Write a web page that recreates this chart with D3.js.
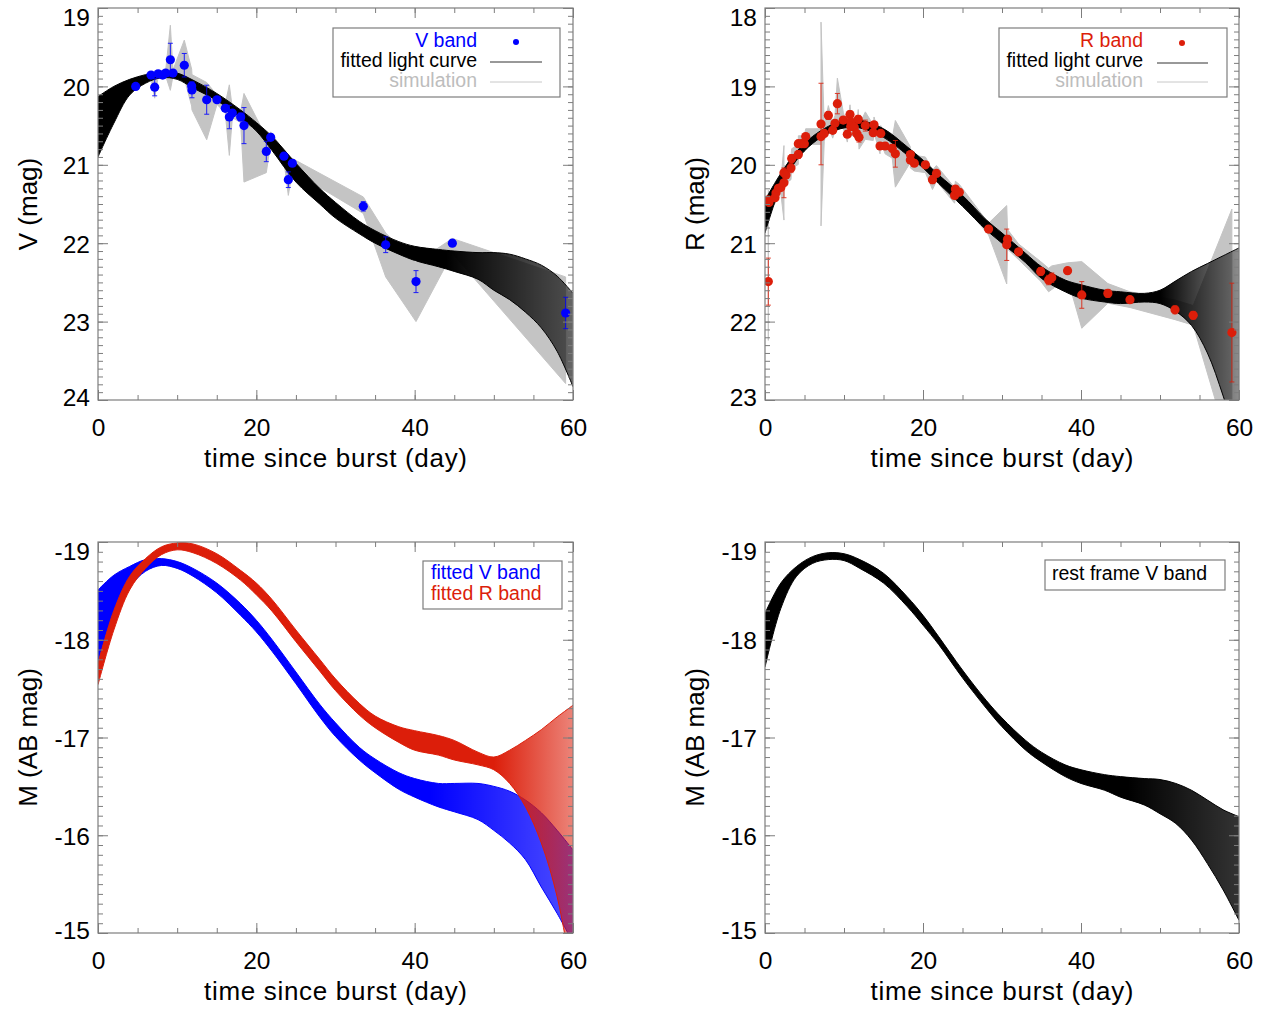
<!DOCTYPE html>
<html><head><meta charset="utf-8">
<script src="https://cdn.jsdelivr.net/npm/d3@7"></script>
<style>body{margin:0;background:#fff}</style></head>
<body>
<svg id="c" width="1277" height="1012"></svg>
<script>
// ---------------- DATA ----------------
// Observed V band photometry (day, mag, error)
const vDays = [4.76, 6.70, 7.16, 7.60, 8.17, 8.55, 9.14, 9.47, 10.90, 11.83, 11.87, 13.73, 15.03, 16.08, 16.59, 16.97, 18.02, 18.44, 21.26, 21.81, 23.49, 24.04, 24.55, 33.51, 36.34, 40.17, 44.76, 59.07];
const vMag  = [20.00, 19.855, 20.01, 19.84, 19.855, 19.83, 19.66, 19.83, 19.73, 19.995, 20.045, 20.17, 20.17, 20.28, 20.39, 20.34, 20.39, 20.50, 20.83, 20.65, 20.89, 21.19, 20.98, 21.53, 22.02, 22.49, 22.00, 22.89];
const vErr  = [0.03, 0.03, 0.11, 0.03, 0.03, 0.03, 0.21, 0.03, 0.15, 0.05, 0.10, 0.185, 0.03, 0.04, 0.15, 0.04, 0.05, 0.23, 0.13, 0.04, 0.04, 0.10, 0.04, 0.06, 0.10, 0.14, 0.04, 0.20];
// Extent of the grey simulated V curves at each observed day (bright edge / faint edge)
const vSimTop = [19.96, 19.81, 19.90, 19.80, 19.81, 19.79, 19.22, 19.79, 19.41, 19.78, 19.85, 19.95, 20.11, 20.22, 19.98, 20.28, 20.32, 20.09, 20.65, 20.58, 20.83, 21.05, 20.92, 21.41, 21.87, 22.25, 21.94, 22.43];
const vSimBot = [20.04, 19.90, 20.15, 19.88, 19.90, 19.87, 20.05, 19.87, 19.90, 20.25, 20.30, 20.68, 20.23, 20.34, 20.88, 20.40, 20.46, 21.22, 21.10, 20.72, 20.95, 21.39, 21.08, 21.62, 22.43, 23.00, 22.13, 23.79];

// Observed R band photometry (day, mag, error), in the order the simulations join them
const rDays = [0.42, 0.42, 0.50, 1.27, 1.39, 1.69, 2.00, 2.40, 2.40, 2.66, 3.29, 3.38, 4.22, 4.22, 4.64, 4.98, 5.15, 7.09, 7.09, 7.50, 8.02, 8.57, 8.86, 9.16, 9.91, 10.42, 10.76, 10.84, 10.85, 11.30, 11.60, 11.80, 11.90, 12.70, 13.70, 13.80, 14.56, 14.65, 15.20, 16.10, 16.50, 18.40, 18.40, 18.90, 20.30, 21.20, 21.70, 24.00, 24.10, 24.60, 28.30, 30.60, 30.70, 32.10, 34.90, 35.90, 36.30, 38.30, 40.10, 43.40, 46.20, 51.90, 54.20, 59.10];
const rMag  = [21.49, 20.45, 20.48, 20.42, 20.36, 20.30, 20.29, 20.23, 20.10, 20.13, 20.04, 19.92, 19.87, 19.73, 19.73, 19.73, 19.64, 19.64, 19.48, 19.60, 19.37, 19.56, 19.47, 19.22, 19.43, 19.61, 19.36, 19.45, 19.51, 19.52, 19.60, 19.42, 19.65, 19.50, 19.59, 19.49, 19.76, 19.60, 19.76, 19.79, 19.86, 19.87, 19.94, 19.98, 20.00, 20.19, 20.11, 20.39, 20.31, 20.35, 20.82, 21.02, 20.95, 21.11, 21.36, 21.47, 21.44, 21.35, 21.66, 21.64, 21.72, 21.85, 21.92, 22.14];
const rErr  = [0.30, 0.05, 0.04, 0.03, 0.03, 0.03, 0.03, 0.19, 0.04, 0.04, 0.06, 0.05, 0.05, 0.04, 0.04, 0.04, 0.04, 0.04, 0.52, 0.04, 0.05, 0.04, 0.04, 0.13, 0.04, 0.04, 0.05, 0.05, 0.05, 0.04, 0.04, 0.05, 0.06, 0.07, 0.04, 0.04, 0.04, 0.04, 0.04, 0.05, 0.17, 0.04, 0.04, 0.04, 0.04, 0.05, 0.04, 0.04, 0.04, 0.04, 0.03, 0.20, 0.05, 0.04, 0.05, 0.06, 0.06, 0.04, 0.17, 0.05, 0.04, 0.05, 0.05, 0.63];

// Days at which the envelopes of the fitted-curve ensembles were read
const gridDays = [0, 2, 4, 6, 8, 10, 12, 15, 18, 20, 22, 25, 28, 30, 33, 35, 38, 40, 43, 45, 48, 50, 52, 54, 56, 58, 60];

// Fitted V light curves (observed frame): bright edge / faint edge of the ensemble
const vFitLo = [20.13, 20.00, 19.91, 19.85, 19.81, 19.83, 19.92, 20.09, 20.30, 20.46, 20.64, 20.98, 21.30, 21.48, 21.72, 21.84, 21.98, 22.04, 22.08, 22.10, 22.12, 22.12, 22.14, 22.20, 22.28, 22.42, 22.64];
const vFitHi = [20.90, 20.47, 20.11, 19.96, 19.89, 19.91, 20.02, 20.18, 20.40, 20.57, 20.82, 21.22, 21.50, 21.68, 21.88, 22.00, 22.14, 22.22, 22.30, 22.36, 22.46, 22.60, 22.72, 22.88, 23.08, 23.38, 23.83];

// Fitted R light curves (observed frame)
const rFitLo = [20.45, 20.11, 19.83, 19.64, 19.51, 19.43, 19.43, 19.54, 19.77, 19.94, 20.13, 20.39, 20.70, 20.87, 21.13, 21.30, 21.47, 21.53, 21.60, 21.62, 21.64, 21.60, 21.48, 21.36, 21.26, 21.16, 21.06];
const rFitHi = [20.87, 20.28, 19.94, 19.73, 19.60, 19.53, 19.53, 19.65, 19.875, 20.04, 20.24, 20.53, 20.83, 21.00, 21.25, 21.45, 21.62, 21.70, 21.75, 21.77, 21.75, 21.77, 21.87, 22.05, 22.40, 22.95, 23.60];

// Absolute magnitude ensembles
const vAbsLo = [-18.51, -18.66, -18.75, -18.82, -18.83, -18.80, -18.73, -18.58, -18.37, -18.20, -18.00, -17.67, -17.34, -17.15, -16.90, -16.78, -16.64, -16.58, -16.53, -16.53, -16.53, -16.50, -16.45, -16.36, -16.23, -16.05, -15.85];
const vAbsHi = [-17.76, -18.27, -18.54, -18.70, -18.76, -18.73, -18.65, -18.48, -18.25, -18.08, -17.88, -17.55, -17.21, -17.01, -16.77, -16.64, -16.47, -16.39, -16.29, -16.24, -16.16, -16.05, -15.92, -15.75, -15.47, -15.20, -14.90];
const rAbsLo = [-17.76, -18.30, -18.65, -18.83, -18.95, -18.99, -18.98, -18.88, -18.71, -18.58, -18.41, -18.10, -17.80, -17.60, -17.35, -17.22, -17.11, -17.07, -17.02, -16.97, -16.85, -16.80, -16.87, -16.97, -17.08, -17.21, -17.33];
const rAbsHi = [-17.54, -18.10, -18.51, -18.73, -18.87, -18.92, -18.89, -18.78, -18.61, -18.46, -18.29, -17.98, -17.68, -17.48, -17.23, -17.10, -16.95, -16.87, -16.82, -16.77, -16.72, -16.67, -16.53, -16.29, -15.92, -15.37, -14.50];
const restLo = [-18.27, -18.58, -18.75, -18.85, -18.89, -18.88, -18.82, -18.68, -18.44, -18.25, -18.03, -17.69, -17.38, -17.20, -16.97, -16.85, -16.72, -16.67, -16.62, -16.60, -16.58, -16.57, -16.53, -16.46, -16.36, -16.26, -16.19];
const restHi = [-17.72, -18.32, -18.65, -18.78, -18.82, -18.81, -18.73, -18.58, -18.34, -18.15, -17.95, -17.61, -17.30, -17.11, -16.87, -16.75, -16.60, -16.53, -16.46, -16.39, -16.31, -16.22, -16.12, -15.95, -15.71, -15.44, -15.13];

// Tick labels
const xTicks = [0, 20, 40, 60];
const yTicksV = [19, 20, 21, 22, 23, 24];
const yTicksR = [18, 19, 20, 21, 22, 23];
const yTicksM = [-19, -18, -17, -16, -15];

// ---------------- DRAWING ----------------
const BLUE = '#0000ff', RED = '#dc1e0a', BLACK = '#000000', GRAY = '#c4c4c4', AXIS = '#7d7d7d';
const FONT = '"Liberation Sans", Arial, Helvetica, sans-serif';
const svg = d3.select('#c').style('font-family', FONT);
const defs = svg.append('defs');
const smooth = d3.curveCatmullRom.alpha(0.5);

function makePanel(id, l, r, t, b, ydom, yTicks, yTitle) {
  const x = d3.scaleLinear().domain([0, 60]).range([l, r]);
  const y = d3.scaleLinear().domain(ydom).range([t, b]);
  defs.append('clipPath').attr('id', 'clip' + id)
    .append('rect').attr('x', l).attr('y', t).attr('width', r - l).attr('height', b - t);
  const plot = svg.append('g').attr('clip-path', `url(#clip${id})`);
  return {id, l, r, t, b, x, y, ydom, yTicks, yTitle, plot};
}

function drawAxes(p) {
  const {x, y, l, r, t, b} = p;
  const yMinor = d3.range(Math.round(p.ydom[0] * 10), Math.round(p.ydom[1] * 10) + 1).map(v => v / 10);
  const xMinor = d3.range(0, 61, 5);
  const tickG = (gen, tx, ty) => {
    const g = svg.append('g').attr('transform', `translate(${tx},${ty})`).call(gen);
    g.select('.domain').remove();
    g.selectAll('.tick line').attr('stroke', AXIS).attr('stroke-width', 1);
    g.selectAll('.tick text').remove();
  };
  tickG(d3.axisLeft(y).tickValues(yMinor).tickSize(-5), l, 0);
  tickG(d3.axisLeft(y).tickValues(p.yTicks).tickSize(-10), l, 0);
  tickG(d3.axisRight(y).tickValues(yMinor).tickSize(-5), r, 0);
  tickG(d3.axisRight(y).tickValues(p.yTicks).tickSize(-10), r, 0);
  tickG(d3.axisTop(x).tickValues(xMinor).tickSize(-5), 0, t);
  tickG(d3.axisTop(x).tickValues(xTicks).tickSize(-10), 0, t);
  tickG(d3.axisBottom(x).tickValues(xMinor).tickSize(-5), 0, b);
  tickG(d3.axisBottom(x).tickValues(xTicks).tickSize(-10), 0, b);

  svg.append('rect').attr('x', l).attr('y', t).attr('width', r - l).attr('height', b - t)
    .attr('fill', 'none').attr('stroke', AXIS).attr('stroke-width', 1.2);

  const yl = svg.append('g').attr('transform', `translate(${l},0)`)
    .call(d3.axisLeft(y).tickValues(p.yTicks).tickSize(0).tickPadding(8).tickFormat(d => String(d)));
  yl.select('.domain').remove();
  yl.selectAll('.tick text').attr('dy', null)
    .attr('y', d => { const py = y(d); return Math.min(Math.max(py, t + 9), b - 3) - py + 8.8; })
    .attr('font-size', 24.5).attr('font-family', FONT).attr('fill', '#000');

  const xl = svg.append('g').attr('transform', `translate(0,${b})`)
    .call(d3.axisBottom(x).tickValues(xTicks).tickSize(0).tickFormat(d => String(d)));
  xl.select('.domain').remove();
  xl.selectAll('.tick text').attr('dy', null).attr('y', 36)
    .attr('font-size', 24.5).attr('font-family', FONT).attr('fill', '#000');

  svg.append('text').attr('x', (l + r) / 2).attr('y', b + 66.5).attr('text-anchor', 'middle')
    .attr('font-size', 26).attr('textLength', 263).attr('lengthAdjust', 'spacing')
    .text('time since burst (day)');
  svg.append('text').attr('transform', `translate(${l - 61},${(t + b) / 2}) rotate(-90)`)
    .attr('text-anchor', 'middle').attr('font-size', 26).text(p.yTitle);
}

function drawBand(p, lo, hi, color, fanStart, endOpacity, key) {
  const rows = gridDays.map((d, i) => ({d, lo: lo[i], hi: hi[i]}));
  const gid = 'grad' + p.id + key;
  const gr = defs.append('linearGradient').attr('id', gid).attr('gradientUnits', 'userSpaceOnUse')
    .attr('x1', p.x(fanStart)).attr('x2', p.x(60)).attr('y1', 0).attr('y2', 0);
  gr.append('stop').attr('offset', 0).attr('stop-color', color).attr('stop-opacity', 1);
  gr.append('stop').attr('offset', 1).attr('stop-color', color).attr('stop-opacity', endOpacity);
  const area = d3.area().x(r => p.x(r.d)).y0(r => p.y(r.lo)).y1(r => p.y(r.hi)).curve(smooth);
  p.plot.append('path').datum(rows).attr('d', area).attr('fill', `url(#${gid})`).attr('stroke', 'none');
  const lineLo = d3.line().x(r => p.x(r.d)).y(r => p.y(r.lo)).curve(smooth);
  const lineHi = d3.line().x(r => p.x(r.d)).y(r => p.y(r.hi)).curve(smooth);
  p.plot.append('path').datum(rows).attr('d', lineLo).attr('fill', 'none').attr('stroke', color).attr('stroke-width', 1);
  p.plot.append('path').datum(rows).attr('d', lineHi).attr('fill', 'none').attr('stroke', color).attr('stroke-width', 1);
}

function drawSimArea(p, rows) {
  const area = d3.area().x(r => p.x(r.d)).y0(r => p.y(r.top)).y1(r => p.y(r.bot));
  p.plot.append('path').datum(rows).attr('d', area).attr('fill', GRAY)
    .attr('stroke', GRAY).attr('stroke-width', 1).attr('stroke-linejoin', 'round');
}

function drawPoints(p, days, mags, errs, color) {
  const rows = days.map((d, i) => ({d, m: mags[i], e: errs[i]}));
  const g = p.plot.append('g');
  const eb = g.selectAll('g.eb').data(rows).join('g').attr('stroke', color).attr('stroke-width', 1).attr('opacity', 0.85);
  eb.append('line').attr('x1', r => p.x(r.d)).attr('x2', r => p.x(r.d))
    .attr('y1', r => p.y(r.m - r.e)).attr('y2', r => p.y(r.m + r.e));
  eb.append('line').attr('x1', r => p.x(r.d) - 2.5).attr('x2', r => p.x(r.d) + 2.5)
    .attr('y1', r => p.y(r.m - r.e)).attr('y2', r => p.y(r.m - r.e));
  eb.append('line').attr('x1', r => p.x(r.d) - 2.5).attr('x2', r => p.x(r.d) + 2.5)
    .attr('y1', r => p.y(r.m + r.e)).attr('y2', r => p.y(r.m + r.e));
  g.selectAll('circle').data(rows).join('circle')
    .attr('cx', r => p.x(r.d)).attr('cy', r => p.y(r.m)).attr('r', 4.6).attr('fill', color);
}

function legendBox(x0, y0, x1, y1) {
  svg.append('rect').attr('x', x0).attr('y', y0).attr('width', x1 - x0).attr('height', y1 - y0)
    .attr('fill', '#fff').attr('stroke', AXIS).attr('stroke-width', 1.2);
}
function legendText(x, y, txt, color, anchor) {
  svg.append('text').attr('x', x).attr('y', y).attr('text-anchor', anchor)
    .attr('font-size', 19.5).attr('fill', color).text(txt);
}

// Panel 1: observed V
const p1 = makePanel(1, 98, 573, 8, 400, [19, 24], yTicksV, 'V (mag)');
drawSimArea(p1, vDays.map((d, i) => ({d, top: vSimTop[i], bot: vSimBot[i]})));
drawBand(p1, vFitLo, vFitHi, BLACK, 44, 0.6, 'v');
drawPoints(p1, vDays, vMag, vErr, BLUE);
drawAxes(p1);
legendBox(333, 28, 560, 97);
legendText(477, 47, 'V band', BLUE, 'end');
legendText(477, 67, 'fitted light curve', BLACK, 'end');
legendText(477, 87, 'simulation', '#bdbdbd', 'end');
svg.append('circle').attr('cx', 516).attr('cy', 42).attr('r', 3).attr('fill', BLUE);
svg.append('line').attr('x1', 490).attr('x2', 542).attr('y1', 62).attr('y2', 62).attr('stroke', '#333').attr('stroke-width', 1);
svg.append('line').attr('x1', 490).attr('x2', 542).attr('y1', 82).attr('y2', 82).attr('stroke', '#c8c8c8').attr('stroke-width', 1);

// Panel 2: observed R (grey simulations spread by 2.5 sigma around each point)
const p2 = makePanel(2, 765, 1239, 8, 400, [18, 23], yTicksR, 'R (mag)');
drawSimArea(p2, rDays.map((d, i) => ({d, top: rMag[i] - 2.5 * rErr[i], bot: rMag[i] + 2.5 * rErr[i]})));
drawBand(p2, rFitLo, rFitHi, BLACK, 50, 0.45, 'r');
drawPoints(p2, rDays, rMag, rErr, RED);
drawAxes(p2);
legendBox(999, 28, 1227, 97);
legendText(1143, 47, 'R band', RED, 'end');
legendText(1143, 67, 'fitted light curve', BLACK, 'end');
legendText(1143, 87, 'simulation', '#bdbdbd', 'end');
svg.append('circle').attr('cx', 1182).attr('cy', 43).attr('r', 3).attr('fill', RED);
svg.append('line').attr('x1', 1157).attr('x2', 1208).attr('y1', 63).attr('y2', 63).attr('stroke', '#333').attr('stroke-width', 1);
svg.append('line').attr('x1', 1157).attr('x2', 1208).attr('y1', 82).attr('y2', 82).attr('stroke', '#c8c8c8').attr('stroke-width', 1);

// Panel 3: absolute V and R
const p3 = makePanel(3, 98, 573, 542, 933, [-19, -15], yTicksM, 'M (AB mag)');
drawBand(p3, vAbsLo, vAbsHi, BLUE, 42, 0.7, 'v');
drawBand(p3, rAbsLo, rAbsHi, RED, 50, 0.55, 'r');
drawAxes(p3);
legendBox(423, 561, 562, 609);
legendText(431, 578.5, 'fitted V band', BLUE, 'start');
legendText(431, 600, 'fitted R band', RED, 'start');

// Panel 4: rest frame V
const p4 = makePanel(4, 765, 1239, 542, 933, [-19, -15], yTicksM, 'M (AB mag)');
drawBand(p4, restLo, restHi, BLACK, 46, 0.8, 'k');
drawAxes(p4);
legendBox(1045, 560, 1225, 590);
legendText(1052, 580, 'rest frame V band', BLACK, 'start');
</script>
</body></html>
